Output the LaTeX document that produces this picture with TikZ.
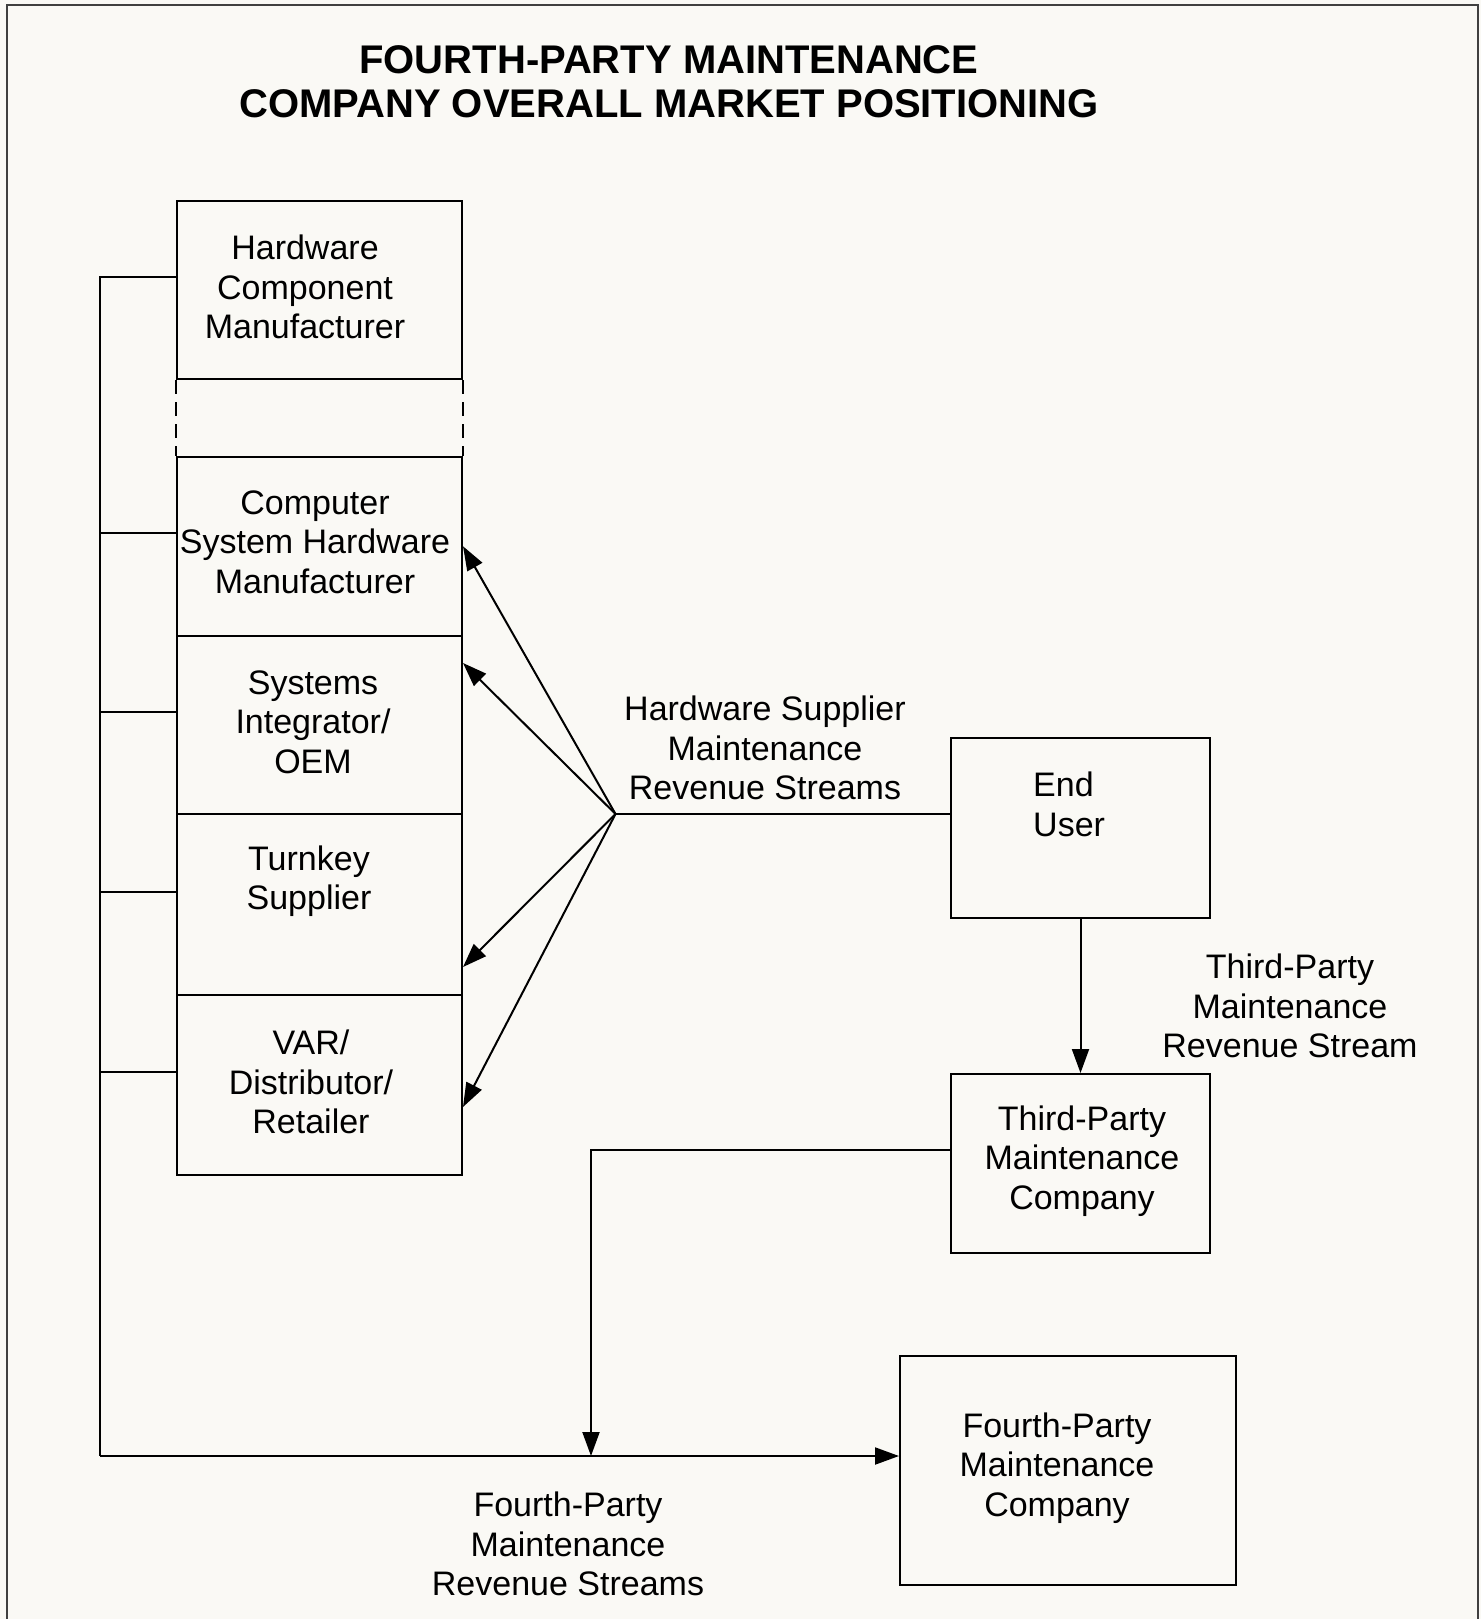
\documentclass[tikz,border=0pt]{standalone}
\usepackage{fontspec}
\setmainfont{Liberation Sans}
\usetikzlibrary{arrows.meta,calc}
\definecolor{paper}{RGB}{250,249,245}
\begin{document}
\begin{tikzpicture}[x=1pt,y=-1pt,
  box/.style={draw,line width=2pt,inner sep=0pt},
  lbl/.style={align=center,font=\fontsize{34}{39.5}\selectfont,inner sep=0pt},
  conn/.style={line width=2pt},
  arr/.style={line width=2pt,-{Triangle[length=24pt,width=17pt]}},
  frame/.style={line width=1.5pt,draw=black!75}]
\fill[paper] (0,0) rectangle (1481,1619);
\useasboundingbox (0,0) rectangle (1481,1619);
% frame
\coordinate (fTL) at (7,5);
\coordinate (fTR) at (1478,5);
\coordinate (fBL) at (7,1619);
\coordinate (fBR) at (1478,1619);
\draw[frame] (fBL) -- (fTL) -- (fTR) -- (fBR);
% title
\node[align=center,font=\bfseries\fontsize{40}{43.5}\selectfont,inner sep=0pt] (title) at (669,81.5)
  {FOURTH-PARTY MAINTENANCE\\COMPANY OVERALL MARKET POSITIONING};
% boxes
\node[box,minimum width=285pt,minimum height=178pt] (hcm) at (319.5,290) {};
\node[box,minimum width=285pt,minimum height=179.5pt] (cshm) at (319.5,546.25) {};
\node[box,minimum width=285pt,minimum height=178pt] (si) at (319.5,725) {};
\node[box,minimum width=285pt,minimum height=181pt] (tk) at (319.5,904.5) {};
\node[box,minimum width=285pt,minimum height=180pt] (var) at (319.5,1085) {};
\node[box,minimum width=259pt,minimum height=180pt] (eu) at (1080.5,828) {};
\node[box,minimum width=259pt,minimum height=179pt] (tpm) at (1080.5,1163.5) {};
\node[box,minimum width=336pt,minimum height=229pt] (fpm) at (1068,1470.5) {};
% dashed sides
\draw[line width=2pt,dash pattern=on 14pt off 8pt] (hcm.south west) -- (cshm.north west);
\draw[line width=2pt,dash pattern=on 14pt off 8pt] (hcm.south east) -- (cshm.north east);
% box texts
\node[lbl] (thcm) at (305,287) {Hardware\\Component\\Manufacturer};
\node[lbl] (tcshm) at (315,542) {Computer\\System Hardware\\Manufacturer};
\node[lbl] (tsi) at (313,722) {Systems\\Integrator/\\OEM};
\node[lbl] (ttk) at (309,881) {Turnkey\\Supplier};
\node[lbl] (tvar) at (311,1082) {VAR/\\Distributor/\\Retailer};
\node[lbl,align=left,anchor=west] (teu) at (1033,804.5) {End\\User};
\node[lbl] (ttpm) at (1082,1161) {Third-Party\\Maintenance\\Company};
\node[lbl] (tfpm) at (1057,1468) {Fourth-Party\\Maintenance\\Company};
% stream labels
\node[lbl] (ths) at (765,748) {Hardware Supplier\\Maintenance\\Revenue Streams};
\node[lbl] (t3p) at (1290,1006) {Third-Party\\Maintenance\\Revenue Stream};
\node[lbl] (t4p) at (568,1544) {Fourth-Party\\Maintenance\\Revenue Streams};
% hub and hardware supplier streams
\coordinate (hub) at (615.5,814);
\draw[conn] (hub) -- (hub -| eu.west);
\draw[arr] (hub) -- (cshm.east);
\draw[arr] (hub) -- ([yshift=-28pt]si.north east);
\draw[arr] (hub) -- ([yshift=29pt]tk.south east);
\draw[arr] (hub) -- ([yshift=-22pt]var.east);
% third party stream
\draw[arr] (eu.south) -- (tpm.north);
% left bus (fourth-party streams)
\coordinate (busbot) at (100,1456);
\draw[conn] ([yshift=13pt]hcm.west) -| (busbot);
\draw[conn] ([yshift=13pt]cshm.west) -- ([yshift=13pt]cshm.west -| busbot);
\draw[conn] ([yshift=13pt]si.west) -- ([yshift=13pt]si.west -| busbot);
\draw[conn] ([yshift=13pt]tk.west) -- ([yshift=13pt]tk.west -| busbot);
\draw[conn] ([yshift=13pt]var.west) -- ([yshift=13pt]var.west -| busbot);
\draw[arr] (busbot) -- ([yshift=14.5pt]fpm.west);
% third party to bus
\coordinate (tpdrop) at (591,1456);
\draw[arr] ([yshift=13.5pt]tpm.west) -| (tpdrop);
\end{tikzpicture}
\end{document}
